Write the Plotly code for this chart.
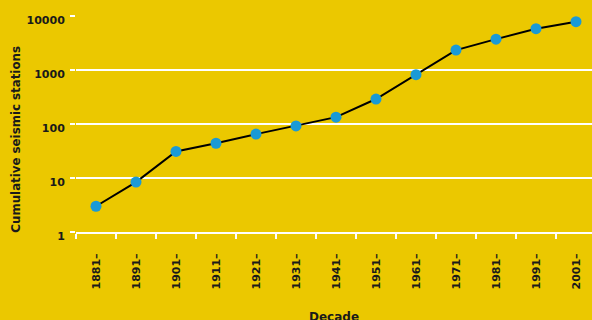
import plotly.graph_objects as go

decades = ["1881–", "1891–", "1901–", "1911–", "1921–", "1931–", "1941–",
           "1951–", "1961–", "1971–", "1981–", "1991–", "2001–"]
stations = [3, 8.4, 31, 44, 65, 92, 134, 290, 820, 2340, 3730, 5820, 7840]
y_ticks = [1, 10, 100, 1000, 10000]

bg = "#EBC800"
txt = "#1a1a1a"
font = dict(family="DejaVu Sans", size=11, color=txt)

fig = go.Figure(go.Scatter(
    x=decades, y=stations, mode="lines+markers",
    line=dict(color="black", width=2),
    marker=dict(color="#1a9ad6", size=11),
    cliponaxis=False,
))

fig.update_layout(
    width=592, height=320,
    margin=dict(l=76, r=0, t=16, b=88),
    paper_bgcolor=bg, plot_bgcolor=bg,
    showlegend=False,
    font=font,
)
fig.update_xaxes(
    type="category", range=[-0.5, 12.4],
    tickson="boundaries", ticks="outside", ticklen=5, tickwidth=2, tickcolor="white",
    tickangle=-90, tickfont=dict(family="DejaVu Sans", size=11, color=txt, weight="bold"),
    ticklabelstandoff=15,
    showline=True, linecolor="white", linewidth=2,
    showgrid=False,
)
fig.update_yaxes(
    type="log", range=[0, 4],
    tickvals=y_ticks, ticktext=[str(v) for v in y_ticks],
    ticks="outside", ticklen=5, tickwidth=2, tickcolor="white",
    tickfont=dict(family="DejaVu Sans", size=11, color=txt, weight="bold"),
    ticklabelstandoff=3, ticklabelshift=4,
    showgrid=True, gridcolor="white", gridwidth=2,
    zeroline=False, showline=False,
)
fig.add_annotation(
    text="<b>Cumulative seismic stations</b>", textangle=-90,
    xref="paper", yref="paper", x=-0.118, y=0.428,
    xanchor="center", yanchor="middle", showarrow=False,
    font=dict(family="DejaVu Sans", size=11.8, color=txt),
)
fig.add_annotation(
    text="<b>Decade</b>",
    xref="paper", yref="paper", x=0.5, y=-0.352,
    xanchor="center", yanchor="top", showarrow=False,
    font=dict(family="DejaVu Sans", size=12, color=txt),
)

fig.write_html("out.html")
